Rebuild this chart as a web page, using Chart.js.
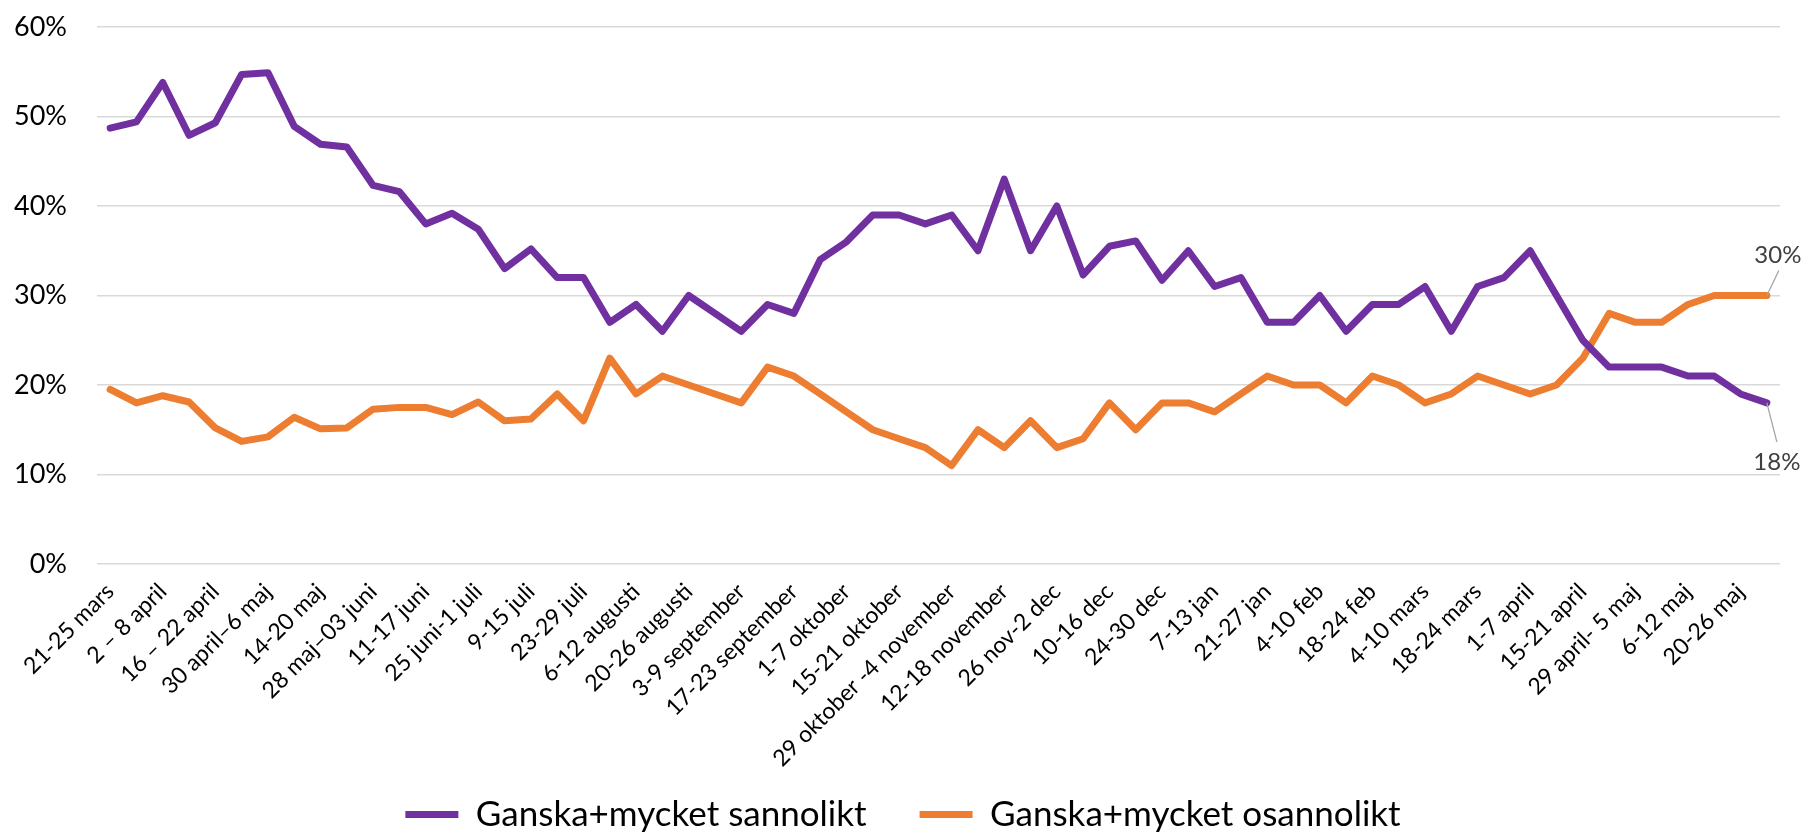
<!DOCTYPE html>
<html>
<head>
<meta charset="utf-8">
<script src="https://cdn.jsdelivr.net/npm/chart.js@4.4.0/dist/chart.umd.min.js"></script>
<style>
  html, body { margin: 0; padding: 0; background: #fff; }
  #wrap { width: 1803px; height: 832px; }
</style>
</head>
<body>
<div id="wrap"><canvas id="chart" width="1803" height="832"></canvas></div>
<script>
// week labels shown on the axis (every second survey week)
const weeks = [
  '21-25 mars', '2 \u2013 8 april', '16 \u2013 22 april', '30 april\u20136 maj', '14-20 maj',
  '28 maj\u201303 juni', '11-17 juni', '25 juni-1 juli', '9-15 juli', '23-29 juli',
  '6-12 augusti', '20-26 augusti', '3-9 september', '17-23 september', '1-7 oktober',
  '15-21 oktober', '29 oktober -4 november', '12-18 november', '26 nov-2 dec', '10-16 dec',
  '24-30 dec', '7-13 jan', '21-27 jan', '4-10 feb', '18-24 feb',
  '4-10 mars', '18-24 mars', '1-7 april', '15-21 april', '29 april- 5 maj',
  '6-12 maj', '20-26 maj'
];

const sannolikt = [
  48.7, 49.4, 53.8, 47.9, 49.3, 54.7, 54.9, 48.9, 46.9, 46.6,
  42.3, 41.6, 38.0, 39.2, 37.4, 33.0, 35.2, 32.0, 32.0, 27.0,
  29.0, 26.0, 30.0, 28.0, 26.0, 29.0, 28.0, 34.0, 36.0, 39.0,
  39.0, 38.0, 39.0, 35.0, 43.0, 35.0, 40.0, 32.3, 35.5, 36.1,
  31.7, 35.0, 31.0, 32.0, 27.0, 27.0, 30.0, 26.0, 29.0, 29.0,
  31.0, 26.0, 31.0, 32.0, 35.0, 30.0, 25.0, 22.0, 22.0, 22.0,
  21.0, 21.0, 19.0, 18.0
];

const osannolikt = [
  19.5, 18.0, 18.8, 18.1, 15.2, 13.7, 14.2, 16.4, 15.1, 15.2,
  17.3, 17.5, 17.5, 16.7, 18.1, 16.0, 16.2, 19.0, 16.0, 23.0,
  19.0, 21.0, 20.0, 19.0, 18.0, 22.0, 21.0, 19.0, 17.0, 15.0,
  14.0, 13.0, 11.0, 15.0, 13.0, 16.0, 13.0, 14.0, 18.0, 15.0,
  18.0, 18.0, 17.0, 19.0, 21.0, 20.0, 20.0, 18.0, 21.0, 20.0,
  18.0, 19.0, 21.0, 20.0, 19.0, 20.0, 23.0, 28.0, 27.0, 27.0,
  29.0, 30.0, 30.0, 30.0
];

const seriesNames = ['Ganska+mycket sannolikt', 'Ganska+mycket osannolikt'];
const seriesColors = ['#7030A0', '#ED7D31'];

const FONT = "Lato, 'Noto Sans', sans-serif";

// only every second week carries a visible label
const labels = sannolikt.map((v, i) => (i % 2 === 0 ? weeks[i / 2] : ''));

// last-value labels with a small leader line
const endLabelOffsets = [
  { lineTo: [10, 39], text: [10, 67] },
  { lineTo: [12, -25], text: [11, -33] }
];

const endLabelPlugin = {
  id: 'endLabels',
  afterDatasetsDraw(chart) {
    const ctx = chart.ctx;
    chart.data.datasets.forEach((ds, i) => {
      const meta = chart.getDatasetMeta(i);
      const pt = meta.data[meta.data.length - 1];
      const off = endLabelOffsets[i];
      ctx.save();
      ctx.strokeStyle = '#a6a6a6';
      ctx.lineWidth = 1.3;
      ctx.beginPath();
      ctx.moveTo(pt.x, pt.y);
      ctx.lineTo(pt.x + off.lineTo[0], pt.y + off.lineTo[1]);
      ctx.stroke();
      ctx.fillStyle = '#404040';
      ctx.font = '24px ' + FONT;
      ctx.textAlign = 'center';
      ctx.textBaseline = 'alphabetic';
      ctx.fillText(Math.round(ds.data[ds.data.length - 1]) + '%', pt.x + off.text[0], pt.y + off.text[1]);
      ctx.restore();
    });
  }
};

// long rotated week labels run down past the legend's top edge,
// and the legend sits a little right of the canvas centre
const layoutTweaks = {
  id: 'layoutTweaks',
  afterLayout(chart) {
    chart.scales.x.bottom = chart.height;
    chart.legend.left += 13;
    chart.legend.right += 13;
  }
};

const ctx = document.getElementById('chart').getContext('2d');
new Chart(ctx, {
  type: 'line',
  data: {
    labels: labels,
    datasets: [sannolikt, osannolikt].map((values, i) => ({
      label: seriesNames[i],
      data: values,
      borderColor: seriesColors[i],
      backgroundColor: seriesColors[i],
      borderWidth: 7,
      borderCapStyle: 'round',
      borderJoinStyle: 'round',
      pointRadius: 0,
      tension: 0,
      fill: false
    }))
  },
  options: {
    responsive: false,
    animation: false,
    devicePixelRatio: 1,
    layout: { padding: { left: 0, right: 23, top: 27, bottom: -10 } },
    plugins: {
      legend: {
        position: 'bottom',
        labels: {
          usePointStyle: true,
          pointStyle: 'line',
          pointStyleWidth: 53,
          padding: 53,
          color: '#000',
          font: { family: FONT, size: 35 }
        }
      },
      tooltip: { enabled: false }
    },
    scales: {
      x: {
        offset: true,
        grid: { display: false },
        border: { display: false },
        ticks: {
          autoSkip: false,
          maxRotation: 45,
          minRotation: 45,
          padding: 6,
          color: '#000',
          font: { family: FONT, size: 23 }
        },
        afterFit(scale) { scale.height = 180; }
      },
      y: {
        min: 0,
        max: 60,
        grid: {
          color: '#d9d9d9',
          lineWidth: 1.5,
          drawTicks: true,
          tickLength: 27,
          tickColor: 'rgba(0,0,0,0)'
        },
        border: { display: false },
        ticks: {
          stepSize: 10,
          padding: 3,
          color: '#000',
          font: { family: FONT, size: 27 },
          callback: v => v + '%'
        },
        afterFit(scale) { scale.width = 97; }
      }
    }
  },
  plugins: [endLabelPlugin, layoutTweaks]
});
</script>
</body>
</html>
